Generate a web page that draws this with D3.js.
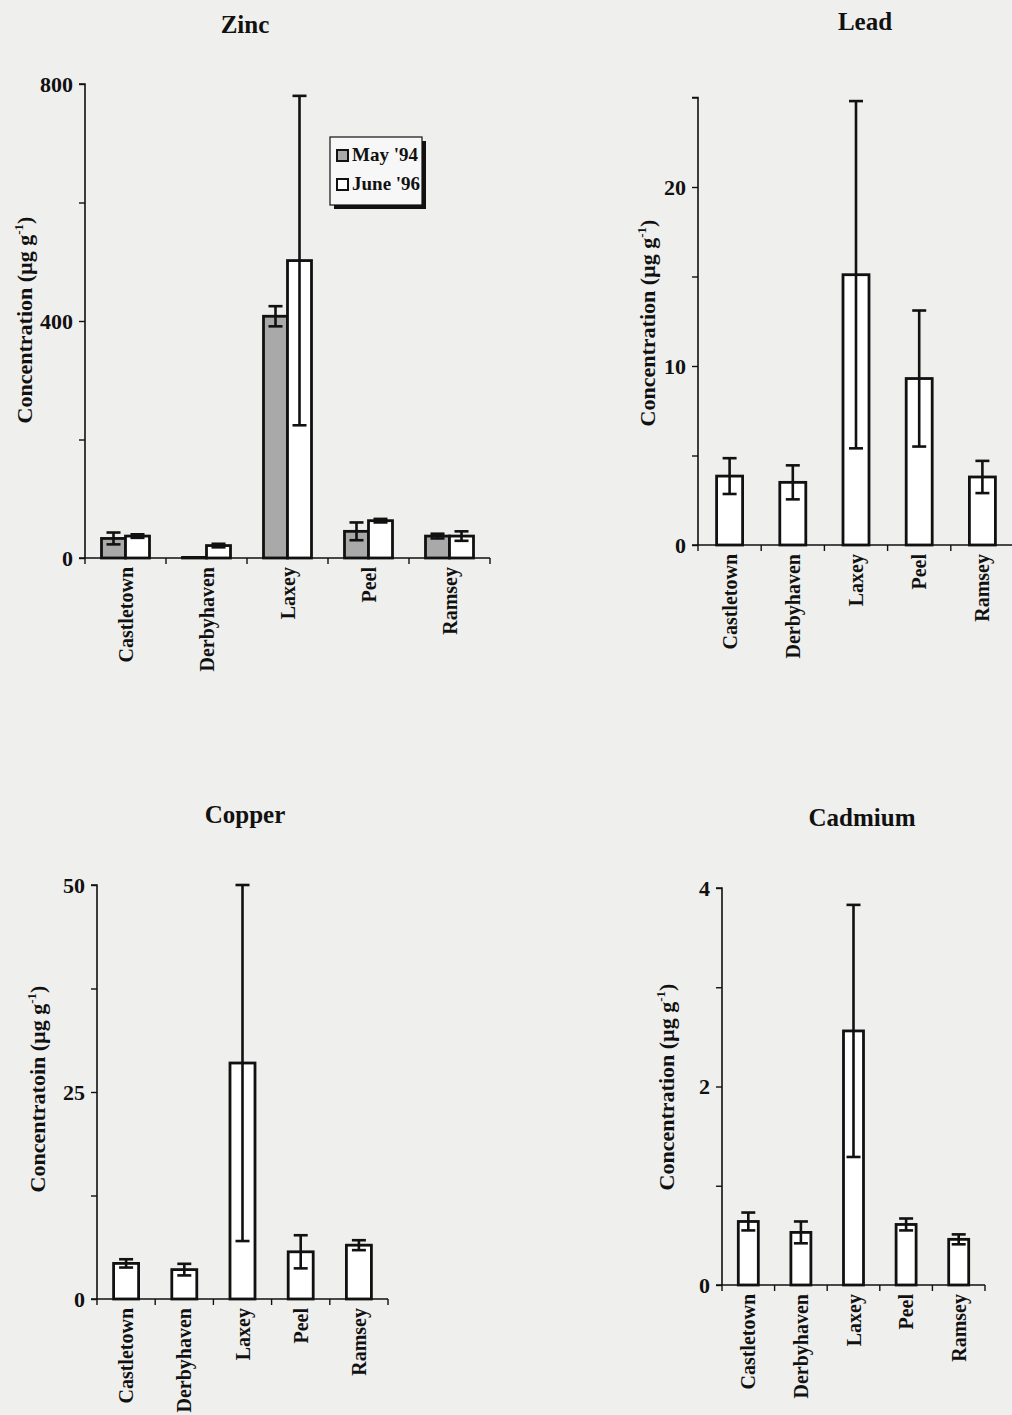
<!DOCTYPE html>
<html>
<head>
<meta charset="utf-8">
<script src="https://cdn.jsdelivr.net/npm/d3@7"></script>
<style>
  html, body { margin: 0; padding: 0; background: #efefed; }
  svg { display: block; }
  text { font-family: "Liberation Serif", "Times New Roman", serif; fill: #111; }
</style>
</head>
<body>
<svg id="chart" width="1012" height="1415"></svg>
<script>
// ---- data ----
const sites = ["Castletown", "Derbyhaven", "Laxey", "Peel", "Ramsey"];
const seriesNames = ["May '94", "June '96"];

const zincMay = [33, 1, 408, 45, 37];
const zincMayErr = [10, 0, 17, 15, 4];
const zincJune = [37, 21, 502, 63, 37];
const zincJuneErr = [3, 3, 278, 3, 8];

const leadJune = [3.85, 3.5, 15.1, 9.3, 3.8];
const leadJuneErr = [1.0, 0.95, 9.7, 3.8, 0.9];

const copperJune = [4.3, 3.55, 28.5, 5.7, 6.5];
const copperJuneErr = [0.5, 0.7, 21.5, 2.0, 0.6];

const cadmiumJune = [0.64, 0.53, 2.56, 0.61, 0.46];
const cadmiumJuneErr = [0.09, 0.11, 1.27, 0.06, 0.05];

const zincTicks = [0, 200, 400, 600, 800];
const zincLabels = [0, 400, 800];
const leadTicks = [0, 5, 10, 15, 20, 25];
const leadLabels = [0, 10, 20];
const copperTicks = [0, 12.5, 25, 37.5, 50];
const copperLabels = [0, 25, 50];
const cadmiumTicks = [0, 1, 2, 3, 4];
const cadmiumLabels = [0, 2, 4];

const titles = ["Zinc", "Lead", "Copper", "Cadmium"];
const yTitles = ["Concentration (\u00b5g g", "Concentration (\u00b5g g", "Concentratoin (\u00b5g g", "Concentration (\u00b5g g"];

// ---- drawing ----
const svg = d3.select("#chart");
const greyFill = "#a9a9a9";

function panel(opts) {
  const g = svg.append("g");
  const x = d3.scaleBand().domain(sites).range([opts.x0, opts.x1]).padding(0);
  const y = d3.scaleLinear().domain([0, opts.max]).range([opts.y0, opts.y1]);

  // title
  g.append("text").attr("x", opts.titleX).attr("y", opts.titleY)
    .attr("text-anchor", "middle").attr("font-weight", "bold")
    .attr("font-size", 25).text(opts.title);

  // y-axis title
  const yt = g.append("text")
    .attr("transform", `translate(${opts.yTitleX},${opts.yTitleY}) rotate(-90)`)
    .attr("text-anchor", "middle").attr("font-weight", "bold").attr("font-size", 22);
  yt.append("tspan").text(opts.yTitle);
  yt.append("tspan").attr("dy", -9).attr("font-size", 13).text("-1");
  yt.append("tspan").attr("dy", 9).text(")");

  // y axis
  const yAxis = d3.axisLeft(y).tickValues(opts.ticks).tickSize(6)
    .tickFormat(d => opts.labels.includes(d) ? d3.format("d")(d) : "");
  const ya = g.append("g").attr("transform", `translate(${opts.x0},0)`).call(yAxis);
  ya.select(".domain").attr("stroke", "#111").attr("stroke-width", 1.6).attr("d", `M-6,${y(opts.max)}H0V${y(0)}`);
  ya.selectAll(".tick line").attr("stroke", "#111").attr("stroke-width", 1.4);
  ya.selectAll(".tick text").attr("font-size", 22).attr("font-weight", "bold")
    .attr("font-family", '"Liberation Serif", serif').attr("fill", "#111").attr("x", -12);

  // x axis (ticks at band boundaries)
  const xa = g.append("g").attr("transform", `translate(0,${opts.y0})`);
  xa.append("line").attr("x1", opts.x0 - 6).attr("x2", opts.x1)
    .attr("stroke", "#111").attr("stroke-width", 1.6);
  const bounds = sites.map(s => x(s)).concat([opts.x1]);
  xa.selectAll("line.tk").data(bounds).join("line").attr("class", "tk")
    .attr("x1", d => d).attr("x2", d => d).attr("y1", 0).attr("y2", 6)
    .attr("stroke", "#111").attr("stroke-width", 1.4);
  xa.selectAll("text").data(sites).join("text")
    .attr("transform", s => `translate(${x(s) + x.bandwidth() / 2},9) rotate(-90)`)
    .attr("text-anchor", "end").attr("dy", "0.35em")
    .attr("font-size", 20).attr("font-weight", "bold").text(s => s);

  // bars
  const n = opts.series.length;
  const bw = opts.barW;
  opts.series.forEach((ser, si) => {
    const off = (si - n / 2) * bw;
    const bars = g.append("g");
    bars.selectAll("rect").data(ser.values).join("rect")
      .attr("x", (d, i) => x(sites[i]) + x.bandwidth() / 2 + off)
      .attr("y", d => y(d))
      .attr("width", bw)
      .attr("height", d => y(0) - y(d))
      .attr("fill", ser.fill).attr("stroke", "#111").attr("stroke-width", 2.8);
    const eb = g.append("g").attr("stroke", "#111").attr("stroke-width", 2.6);
    ser.values.forEach((v, i) => {
      const e = ser.err[i];
      if (!e) return;
      const cx = x(sites[i]) + x.bandwidth() / 2 + off + bw / 2;
      const lo = y(Math.max(0, v - e)), hi = y(v + e);
      eb.append("line").attr("x1", cx).attr("x2", cx).attr("y1", lo).attr("y2", hi);
      eb.append("line").attr("x1", cx - opts.cap).attr("x2", cx + opts.cap).attr("y1", hi).attr("y2", hi);
      eb.append("line").attr("x1", cx - opts.cap).attr("x2", cx + opts.cap).attr("y1", lo).attr("y2", lo);
    });
  });
  return g;
}

const zinc = panel({
  title: titles[0], titleX: 245, titleY: 33,
  yTitle: yTitles[0], yTitleX: 32, yTitleY: 320,
  x0: 85, x1: 490, y0: 558, y1: 84, max: 800,
  ticks: zincTicks, labels: zincLabels, barW: 24, cap: 7,
  series: [
    { values: zincMay, err: zincMayErr, fill: greyFill },
    { values: zincJune, err: zincJuneErr, fill: "#ffffff" }
  ]
});

const lead = panel({
  title: titles[1], titleX: 865, titleY: 30,
  yTitle: yTitles[1], yTitleX: 655, yTitleY: 323,
  x0: 698, x1: 1014, y0: 545, y1: 97.5, max: 25,
  ticks: leadTicks, labels: leadLabels, barW: 26, cap: 7,
  series: [{ values: leadJune, err: leadJuneErr, fill: "#ffffff" }]
});

const copper = panel({
  title: titles[2], titleX: 245, titleY: 823,
  yTitle: yTitles[2], yTitleX: 45, yTitleY: 1089,
  x0: 97, x1: 388, y0: 1299, y1: 885, max: 50,
  ticks: copperTicks, labels: copperLabels, barW: 25, cap: 7,
  series: [{ values: copperJune, err: copperJuneErr, fill: "#ffffff" }]
});

const cadmium = panel({
  title: titles[3], titleX: 862, titleY: 826,
  yTitle: yTitles[3], yTitleX: 674, yTitleY: 1087,
  x0: 722, x1: 985, y0: 1285, y1: 888, max: 4,
  ticks: cadmiumTicks, labels: cadmiumLabels, barW: 20, cap: 7,
  series: [{ values: cadmiumJune, err: cadmiumJuneErr, fill: "#ffffff" }]
});

// legend (zinc panel)
const lg = svg.append("g").attr("transform", "translate(330,137)");
lg.append("rect").attr("x", 4).attr("y", 4).attr("width", 92).attr("height", 68).attr("fill", "#111");
lg.append("rect").attr("x", 0).attr("y", 0).attr("width", 92).attr("height", 68)
  .attr("fill", "#f7f7f7").attr("stroke", "#111").attr("stroke-width", 1.2);
const lgItems = lg.selectAll("g.item").data(seriesNames).join("g").attr("class", "item")
  .attr("transform", (d, i) => `translate(7,${13 + i * 29})`);
lgItems.append("rect").attr("width", 11).attr("height", 11)
  .attr("fill", (d, i) => i === 0 ? greyFill : "#fff").attr("stroke", "#111").attr("stroke-width", 2);
lgItems.append("text").attr("x", 15).attr("y", 11).attr("font-size", 19).attr("font-weight", "bold").text(d => d);
</script>
</body>
</html>
